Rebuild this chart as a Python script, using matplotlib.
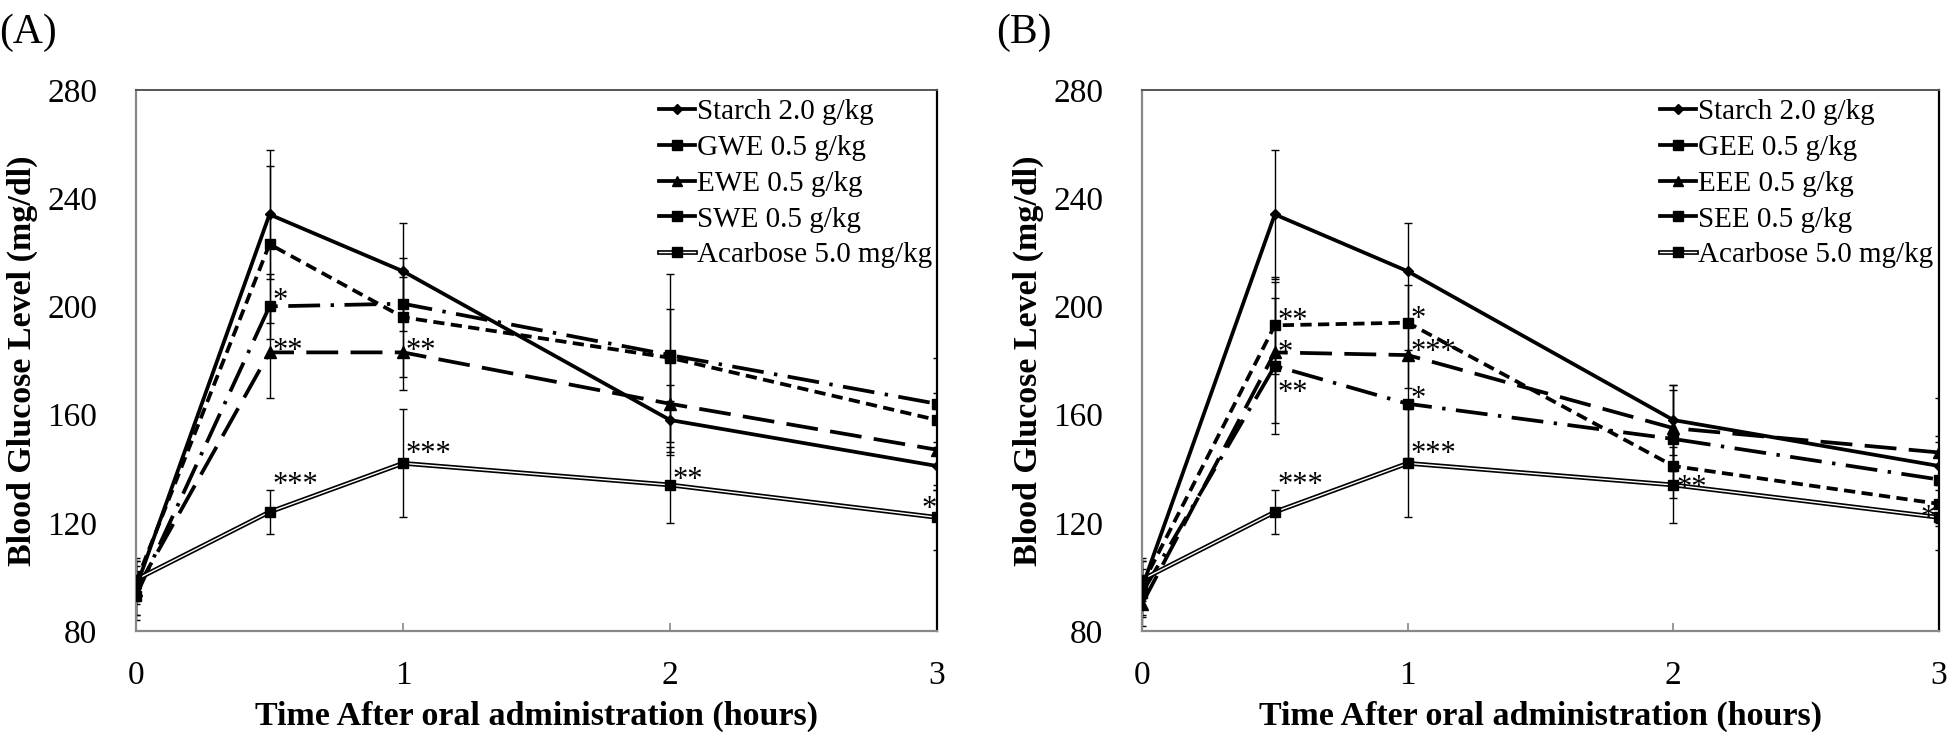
import matplotlib
matplotlib.use("Agg")
import matplotlib.pyplot as plt
from matplotlib.lines import Line2D
from matplotlib.legend_handler import HandlerTuple

plt.rcParams['font.family'] = ['Liberation Serif', 'DejaVu Serif']

# ---------------- data ----------------
time = [0, 0.5, 1, 2, 3]
x_ticks = [0, 1, 2, 3]
y_ticks = [80, 120, 160, 200, 240, 280]

starch = [96, 234, 213, 158, 141]
starch_err = [10, 24, 18, 13, 9]
acarbose = [99, 124, 142, 134, 122]
acarbose_err = [8, 8, 20, 14, 12]

# Panel A (water extracts)
gwe = [98, 223, 196, 181, 158]
gwe_err = [8, 29, 22, 31, 10]
ewe = [95, 183, 183, 164, 147]
ewe_err = [9, 17, 14, 18, 15]
swe = [93, 200, 201, 182, 164]
swe_err = [9, 12, 10, 17, 17]
labels_a = ["Starch 2.0 g/kg", "GWE 0.5 g/kg", "EWE 0.5 g/kg", "SWE 0.5 g/kg", "Acarbose 5.0 mg/kg"]

# Panel B (ethanol extracts)
gee = [97, 193, 194, 141, 127]
gee_err = [9, 18, 14, 12, 8]
eee = [90, 183, 182, 155, 146]
eee_err = [8, 26, 12, 16, 20]
see = [94, 178, 164, 151, 136]
see_err = [9, 25, 20, 18, 16]
labels_b = ["Starch 2.0 g/kg", "GEE 0.5 g/kg", "EEE 0.5 g/kg", "SEE 0.5 g/kg", "Acarbose 5.0 mg/kg"]

# significance marks: (time, value, text)
stars_a = [(0.5, 204.6, "*"), (0.5, 186.2, "**"), (0.5, 136.6, "***"),
           (1, 186.2, "**"), (1, 148, "***"), (2, 138.4, "**"), (2.93, 127.8, "*")]
stars_b = [(0.5, 197.2, "**"), (0.5, 185.3, "*"), (0.5, 170.6, "**"), (0.5, 136.6, "***"),
           (1, 198, "*"), (1, 185.7, "***"), (1, 168.3, "*"), (1, 148, "***"),
           (2, 135.6, "**"), (2.92, 124.6, "*")]

xlabel = "Time After oral administration (hours)"
ylabel = "Blood Glucose Level (mg/dl)"

# ---------------- figure ----------------
W, H = 1951, 732
fig = plt.figure(figsize=(W / 100, H / 100), dpi=100)

LW = 2.7
short_dash = (0, (3.0, 1.7))
long_dash = (0, (8.5, 3.3))
dash_dot = (0, (8.5, 2.8, 0.9, 2.8))


def panel(ax, series, labels, stars, leg_x):
    (s, se), (g, ge), (e, ee), (w, we), (a, ae) = series
    for vals, errs in series:
        ax.errorbar(time, vals, yerr=errs, fmt='none', ecolor='black',
                    elinewidth=1.0, capsize=3, capthick=1.0, zorder=2)
    ax.plot(time, s, color='black', lw=LW, ls='-', marker='D', ms=5, zorder=5)
    ax.plot(time, g, color='black', lw=LW, ls=short_dash, marker='s', ms=7.5, zorder=4)
    ax.plot(time, e, color='black', lw=LW, ls=long_dash, marker='^', ms=8, zorder=4)
    ax.plot(time, w, color='black', lw=LW, ls=dash_dot, marker='s', ms=7.5, zorder=4)
    ax.plot(time, a, color='black', lw=3.4, ls='-', zorder=4)
    ax.plot(time, a, color='white', lw=1.0, ls='-', zorder=4.1)
    ax.plot(time, a, color='black', lw=0, marker='s', ms=7.5, zorder=4.2)

    # legend proxies (short solid handles with markers)
    h1 = Line2D([], [], color='black', lw=LW, marker='D', ms=5)
    h2 = Line2D([], [], color='black', lw=LW, marker='s', ms=7)
    h3 = Line2D([], [], color='black', lw=LW, marker='^', ms=7)
    h4 = Line2D([], [], color='black', lw=LW, marker='s', ms=7)
    a1 = Line2D([], [], color='black', lw=3.4)
    a2 = Line2D([], [], color='white', lw=1.0)
    a3 = Line2D([], [], color='black', lw=0, marker='s', ms=7)
    handles = [h1, h2, h3, h4, (a1, a2, a3)]

    ax.set_xlim(0, 3)
    ax.set_ylim(80, 280)
    ax.set_xticks(x_ticks)
    ax.set_yticks(y_ticks)
    ax.tick_params(axis='x', direction='in', length=6, width=1.2, color='#888888',
                   labelsize=24, pad=21)
    ax.tick_params(axis='y', length=0, labelsize=24, pad=28)
    for side in ['left', 'bottom']:
        ax.spines[side].set_color('#888888')
        ax.spines[side].set_linewidth(1.6)
    ax.spines['top'].set_color('#555555')
    ax.spines['top'].set_linewidth(1.4)
    ax.spines['right'].set_color('black')
    ax.spines['right'].set_linewidth(1.6)

    ax.set_xlabel(xlabel, fontsize=24.5, fontweight='bold', va='center')
    ax.set_ylabel(ylabel, fontsize=24.5, fontweight='bold', va='center', ha='center')
    ax.xaxis.set_label_coords(0.5, -0.157)
    ax.yaxis.set_label_coords(-0.142, 0.5)

    for t, v, txt in stars:
        ax.annotate(txt, xy=(t, v), xytext=(2, -11), textcoords='offset points',
                    ha='left', va='baseline', fontsize=22, zorder=6)

    ax.legend(handles, labels, loc='upper left', bbox_to_anchor=(leg_x, 0.989),
              frameon=False, fontsize=21, handlelength=1.25, handletextpad=0.05,
              labelspacing=0.32, borderpad=0.1, borderaxespad=0.0,
              handler_map={tuple: HandlerTuple(ndivide=1, pad=0)})


ax_a = fig.add_axes([136 / W, 1 - 631 / H, (937 - 136) / W, (631 - 90) / H])
ax_b = fig.add_axes([1142 / W, 1 - 631 / H, (1939 - 1142) / W, (631 - 90) / H])

panel(ax_a, [(starch, starch_err), (gwe, gwe_err), (ewe, ewe_err), (swe, swe_err),
             (acarbose, acarbose_err)], labels_a, stars_a, 0.649)
panel(ax_b, [(starch, starch_err), (gee, gee_err), (eee, eee_err), (see, see_err),
             (acarbose, acarbose_err)], labels_b, stars_b, 0.646)

fig.text(28 / W, 1 - 33 / H, "(A)", fontsize=30, ha='center', va='center')
fig.text(1024 / W, 1 - 33 / H, "(B)", fontsize=30, ha='center', va='center')

fig.savefig("out.png", dpi=100)
